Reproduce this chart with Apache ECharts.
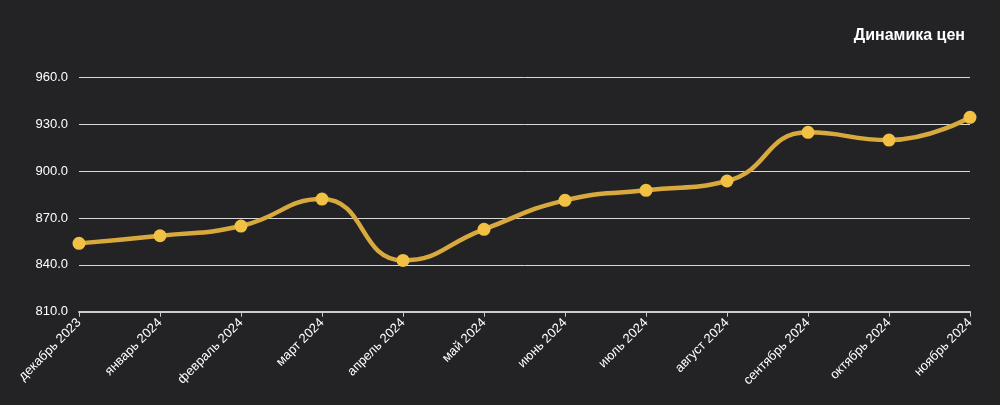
<!DOCTYPE html>
<html><head><meta charset="utf-8">
<script src="https://cdn.jsdelivr.net/npm/echarts@6/dist/echarts.min.js"></script>
<style>html,body{margin:0;padding:0;background:#232326;}#c{width:1000px;height:405px;}</style>
</head><body><div id="c"></div>
<script>
const categories = ['декабрь 2023','январь 2024','февраль 2024','март 2024','апрель 2024','май 2024','июнь 2024','июль 2024','август 2024','сентябрь 2024','октябрь 2024','ноябрь 2024'];
const prices = [853.8, 858.7, 864.9, 882.2, 842.9, 862.8, 881.4, 887.8, 893.8, 925.0, 920.0, 934.6];
const titleText = 'Динамика цен';
const font = 'Liberation Sans, Arial, sans-serif';
const chart = echarts.init(document.getElementById('c'));
chart.setOption({
  backgroundColor: '#232326',
  animation: false,
  title: { text: titleText, right: 30, top: 23, textStyle: { color: '#ffffff', fontSize: 16, fontWeight: 'bold', fontFamily: font } },
  grid: { left: 79, right: 30, top: 77.7, bottom: 93.3, containLabel: false },
  xAxis: {
    type: 'category', data: categories, boundaryGap: false,
    axisLine: { lineStyle: { color: '#cccccc', width: 2 } },
    axisTick: { show: true, length: 5, lineStyle: { color: '#cccccc', width: 1 } },
    axisLabel: { rotate: 45, color: '#ffffff', fontSize: 13, fontFamily: font, margin: 9, interval: 0 }
  },
  yAxis: {
    type: 'value', min: 810, max: 960, interval: 30,
    axisLine: { show: false }, axisTick: { show: false },
    axisLabel: { color: '#ffffff', fontSize: 13, fontFamily: font, margin: 11, formatter: v => v.toFixed(1) },
    splitLine: { lineStyle: { color: '#d8d8d8', width: 1 } }
  },
  series: [{
    type: 'line', data: prices, smooth: 0.5,
    symbol: 'circle', symbolSize: 13,
    lineStyle: { color: '#d8aa3e', width: 4.5 },
    itemStyle: { color: '#f2c043' }
  }]
});
</script></body></html>
